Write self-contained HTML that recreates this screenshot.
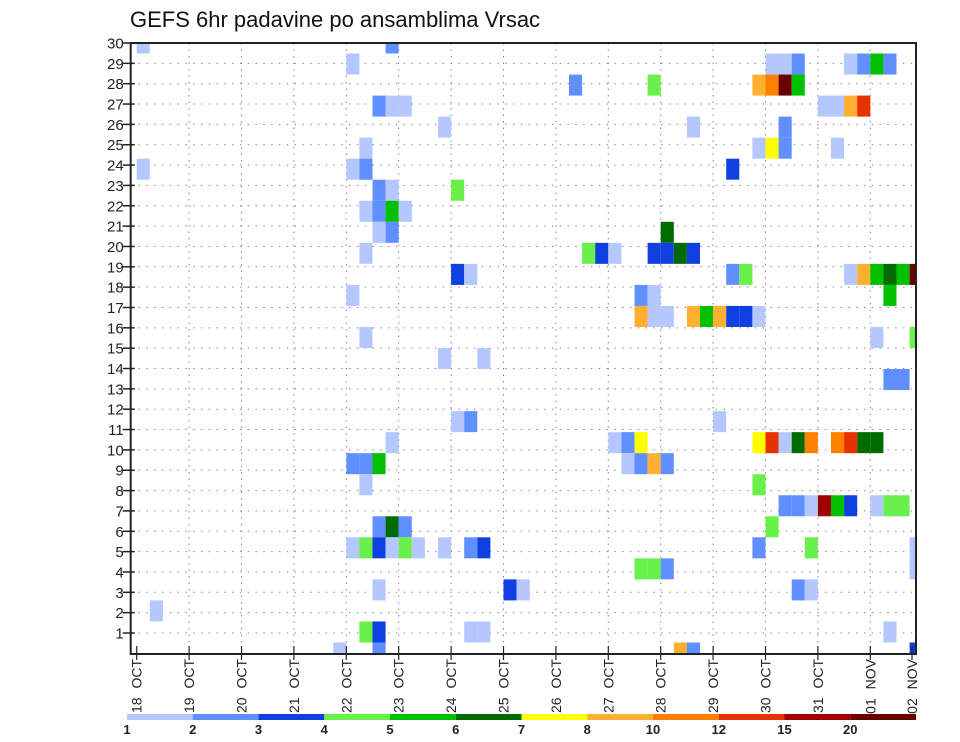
<!DOCTYPE html>
<html><head><meta charset="utf-8"><style>
html,body{margin:0;padding:0;background:#fff;}
svg{display:block;font-family:"Liberation Sans",sans-serif;}
</style></head><body>
<svg id="chart" width="960" height="742" viewBox="0 0 960 742" xmlns="http://www.w3.org/2000/svg">
<text x="130" y="27" font-size="22" fill="#111">GEFS 6hr padavine po ansamblima Vrsac</text>
<g id="grid"></g>
<g id="cells"></g>
<g id="axes"></g>
<g id="legend"></g>
</svg>
<script>
const dayLabels = ["18 OCT","19 OCT","20 OCT","21 OCT","22 OCT","23 OCT","24 OCT","25 OCT","26 OCT","27 OCT","28 OCT","29 OCT","30 OCT","31 OCT","01 NOV","02 NOV"];
const yTickLabels = [1,2,3,4,5,6,7,8,9,10,11,12,13,14,15,16,17,18,19,20,21,22,23,24,25,26,27,28,29,30];
const levelLabels = ["1","2","3","4","5","6","7","8","10","12","15","20"];
const levelColors = ["#b4c8ff","#6090ff","#1040e0","#6af04a","#00c000","#006c00","#ffff00","#ffb030","#ff8000","#e83000","#a00000","#680000"];
// member index (0 bottom .. 29 top), one line per member
const cellMember = [
29,29,
28,28,28,28,28,28,28,28,
27,27,27,27,27,27,
26,26,26,26,26,26,26,
25,25,25,
24,24,24,24,24,
23,23,23,23,
22,22,22,
21,21,21,21,
20,20,20,
19,19,19,19,19,19,19,19,
18,18,18,18,18,18,18,18,18,18,
17,17,17,17,
16,16,16,16,16,16,16,16,16,
15,15,15,
14,14,
13,13,
11,11,11,
10,10,10,10,10,10,10,10,10,10,10,10,10,
9,9,9,9,9,9,9,
8,8,
7,7,7,7,7,7,7,7,7,
6,6,6,6,
5,5,5,5,5,5,5,5,5,5,5,5,
4,4,4,4,
3,3,3,3,3,
2,
1,1,1,1,1,
0,0,0,0,0];
// time index (6-hourly steps from 18 OCT 00Z)
const cellTime = [
0,19,
16,48,49,50,54,55,56,57,
33,39,47,48,49,50,
18,19,20,52,53,54,55,
23,42,49,
17,47,48,49,53,
0,16,17,45,
18,19,24,
17,18,19,20,
18,19,40,
17,34,35,36,39,40,41,42,
24,25,45,46,54,55,56,57,58,59,
16,38,39,57,
38,39,40,42,43,44,45,46,47,
17,56,59,
23,26,
57,58,
24,25,44,
19,36,37,38,47,48,49,50,51,53,54,55,56,
16,17,18,37,38,39,40,
17,47,
49,50,51,52,53,54,56,57,58,
18,19,20,48,
16,17,18,19,20,21,23,25,26,47,51,59,
38,39,40,59,
18,28,29,50,51,
1,
17,18,25,26,57,
15,18,41,42,59];
// precipitation class index (0 = 1-2 mm ... 11 = >20 mm)
const cellLevel = [
0,1,
0,0,0,1,0,1,4,1,
1,3,7,8,11,4,
1,0,0,0,0,7,9,
0,0,1,
0,0,6,1,0,
0,0,1,2,
1,0,3,
0,1,4,0,
0,1,5,
0,3,2,0,2,2,5,2,
2,0,1,3,0,7,4,5,4,11,
0,1,0,4,
7,0,0,7,4,7,2,2,0,
0,0,3,
0,0,
1,1,
0,1,0,
0,0,1,6,6,9,0,5,8,8,9,5,5,
1,1,4,0,1,7,1,
0,3,
1,1,0,10,4,2,0,3,3,
1,5,1,3,
0,3,2,0,3,0,0,1,2,1,3,0,
3,3,1,0,
0,2,0,1,0,
0,
3,2,0,0,0,
0,1,7,1,2];

const NS="http://www.w3.org/2000/svg";
const L=130.7,R=916,T=43,B=654;
const x0=136.7, dayW=52.4, stepW=dayW/4;
const nMembers=30;
const rowH=(B-1-T)/(nMembers-1);
function xTime(k){return x0+k*stepW;}
function yMember(j){return (B-1)-j*rowH;}
function yLabel(v){return T+(30-v)*((633-T)/29);}
function el(tag,attrs,parent){const e=document.createElementNS(NS,tag);for(const a in attrs)e.setAttribute(a,attrs[a]);parent.appendChild(e);return e;}

const grid=document.getElementById('grid');
for(let v=1;v<=29;v++){
  const l=el('line',{x1:L,x2:R,y1:yLabel(v),y2:yLabel(v),stroke:'#888','stroke-width':1,'stroke-dasharray':'1.5 6.3'},grid);
  
  
}
for(let d=1;d<dayLabels.length-1;d++){
  const x=x0+d*dayW;
  const l=el('line',{x1:x,x2:x,y1:T,y2:B,stroke:'#888','stroke-width':1,'stroke-dasharray':'1.5 5'},grid);
  
  
}

const cells=document.getElementById('cells');
const n=Math.min(cellMember.length,cellTime.length,cellLevel.length);
for(let i=0;i<n;i++){
  let xa=xTime(cellTime[i]), xb=xa+stepW;
  let yc=yMember(cellMember[i]); let ya=yc-rowH/2, yb=yc+rowH/2;
  xa=Math.max(xa,L); xb=Math.min(xb,R); ya=Math.max(ya,T); yb=Math.min(yb,B);
  const r=el('rect',{x:xa,y:ya,width:xb-xa,height:yb-ya,fill:levelColors[cellLevel[i]]},cells);
  
  
}

const axes=document.getElementById('axes');
const frame=el('rect',{x:L,y:T,width:R-L,height:B-T,fill:'none',stroke:'#222','stroke-width':2},axes);


yTickLabels.forEach(v=>{
  const y=yLabel(v);
  el('line',{x1:L-8,x2:L+4,y1:y,y2:y,stroke:'#222','stroke-width':1.5},axes);
  const t=el('text',{x:L-7,y:y+5.5,'font-size':15,'text-anchor':'end',fill:'#222'},axes);
  t.textContent=v;
  
  
});
dayLabels.forEach((s,d)=>{
  const x=Math.min(x0+d*dayW,912);
  el('line',{x1:x,x2:x,y1:B-8,y2:B+6,stroke:'#222','stroke-width':1.2},axes);
  const t=el('text',{x:0,y:0,'font-size':14,'text-anchor':'end','word-spacing':'5',fill:'#222',transform:`translate(${x+5},${B+5}) rotate(-90)`},axes);
  t.textContent=s;
  
  
});

const lg=document.getElementById('legend');
const lx0=127, lw=(916-127)/levelColors.length;
levelColors.forEach((c,i)=>{
  const r=el('rect',{x:lx0+i*lw,y:714,width:lw,height:6,fill:c},lg);
  
  
  const t=el('text',{x:lx0+i*lw,y:734,'font-size':13,'font-weight':'bold','text-anchor':'middle',fill:'#222'},lg);
  t.textContent=levelLabels[i];
  
  
});
</script>
</body></html>
